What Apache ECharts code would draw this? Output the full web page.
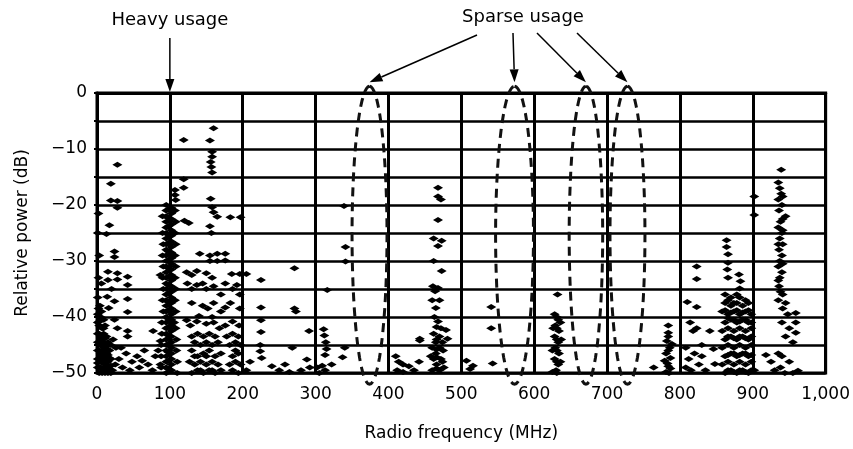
<!DOCTYPE html>
<html>
<head>
<meta charset="utf-8">
<script src="https://cdn.jsdelivr.net/npm/echarts@6/dist/echarts.min.js"></script>
<style>
  html, body { margin: 0; padding: 0; background: #fff; }
  #chart { width: 853px; height: 449px; }
</style>
</head>
<body>
<div id="chart"></div>
<script>
// measured points [MHz, dB], grouped by band
const lowBand = [
  [1,-39.5],[5,-40],[9,-40.5],[3,-41.5],[7,-42],[11,-41.5],[1,-43],[5,-43.5],[9,-43],[13,-43.5],
  [3,-44.5],[7,-45],[11,-45],[15,-44.5],[1,-46],[5,-46.5],[9,-46],[13,-46.5],[17,-46],[3,-47.5],
  [7,-48],[11,-47.5],[15,-48],[19,-47.5],[1,-49],[5,-49],[9,-49.5],[13,-49],[17,-49.5],[3,-50],
  [7,-50],[11,-50],[15,-50],[21,-49.5],[1,-41],[1,-44.5],[1,-47.5],[5,-45],[9,-44.5],[5,-48],[9,-47.5],[13,-48],
  [3,-40.8],[7,-43.8],[11,-46.8],[15,-46.8],[19,-45],[17,-48.8],[7,-46.5],[3,-49],[11,-49],[19,-50],
  [5,-41.8],[9,-42],[3,-43],[11,-43.8],[5,-44.2],[13,-45.2],[3,-46],[9,-45.5],[15,-45.8],[7,-47],
  [13,-47.2],[17,-47.3],[1,-48.2],[11,-48.5],[15,-49.2],[7,-49.2],[19,-48.7],[2,-38.5],[6,-39],
  [2,-21.5],[1,-25],[3,-29],[2,-33],[1,-36.5],[4,-38],[6,-34],
  [28,-12.8],[19,-16.2],[19,-19.2],[28,-19.3],[28,-20.5],[17,-23.6],[13,-25.2],[24,-28.3],[24,-29.3],
  [15,-31.9],[28,-32.2],[15,-33.4],[28,-33.3],[42,-32.8],[42,-34.3],[14,-36.4],[24,-37.2],[16,-38.4],
  [20,-35],[42,-36.8],[42,-39.1],[24,-40.5],[28,-42],[42,-42.5],[42,-43.5],[77,-42.5],[87,-32.5],[87,-44.3],
  [22,-44],[26,-45.5],[33,-45.5],[40,-46.5],[30,-47.5],[55,-47],[48,-48],[65,-46],[58,-49],[70,-48.5],
  [80,-47],[87,-48.5],[76,-49.5],[35,-49],[25,-48.5],[45,-49.5],[62,-47.8],[84,-46]
];
const fmBand = [
  [107,-17.3],[107,-18.2],[108,-19.1],
  [95,-20],[95,-21],[95,-22],[95,-23],[95,-24],[95,-25],[95,-26],[95,-27],[95,-28],[95,-29],[95,-30],
  [95,-31],[95,-32],[95,-33],[95,-34],[95,-35],[95,-36],[95,-37],[95,-38],[95,-39],[95,-40],[95,-41],
  [95,-42],[95,-43],[95,-44],[95,-45],[95,-46],[95,-47],[95,-48],[95,-49],[95,-50],
  [102,-20.5],[102,-21.5],[102,-22.5],[102,-23.5],[102,-24.5],[102,-25.5],[102,-26.5],[102,-27.5],
  [102,-28.5],[102,-29.5],[102,-30.5],[102,-31.5],[102,-32.5],[102,-33.5],[102,-34.5],[102,-35.5],
  [102,-36.5],[102,-37.5],[102,-38.5],[102,-39.5],[102,-40.5],[102,-41.5],[102,-42.5],[102,-43.5],
  [102,-44.5],[102,-45.5],[102,-46.5],[102,-47.5],[102,-48.5],[102,-49.5],
  [98,-20.8],[98,-22.3],[98,-23.8],[98,-25.3],[98,-26.8],[98,-28.3],[98,-29.8],[98,-31.3],[98,-32.8],
  [98,-34.3],[98,-35.8],[98,-37.3],[98,-38.8],[98,-40.3],[98,-41.8],[98,-43.3],[98,-44.8],[98,-46.3],
  [98,-47.8],[98,-49.3],
  [90,-22],[108,-23],[90,-25],[108,-27],[90,-29],[108,-31],[90,-33],[108,-35],[90,-37],[108,-39],
  [89,-41],[108,-42],[89,-43],[109,-44],[88,-45],[109,-46],[88,-47],[110,-48],[88,-49],[110,-50],
  [107,-21],[107,-25],[91,-27],[107,-29],[91,-31],[107,-33],[91,-35],[107,-37],[91,-39],[106,-41]
];
const vhfBand = [
  [160,-6.3],[119,-8.4],[155,-8.5],[158,-10.5],[158,-11.4],[156,-12.3],[157,-13.2],[158,-14.2],[119,-15.4],
  [119,-16.9],[156,-18.9],[158,-20.4],[160,-21.3],[165,-22.1],[183,-22.2],[197,-22.2],[126,-23.2],[120,-22.8],
  [155,-23.8],[157,-25],[141,-28.7],[155,-29],[165,-28.7],[176,-28.7],[176,-29.9],[165,-30],[155,-30],
  [123,-32],[130,-32.5],[137,-31.8],[150,-32.2],[158,-33],[185,-32.3],[196,-32.3],[205,-32.3],
  [124,-34],[130,-35],[137,-34.3],[145,-34],[150,-35],[160,-34.5],[170,-36],[176,-34],[186,-35],[192,-34.3],[196,-36],
  [130,-37.5],[145,-38],[152,-38.5],[160,-37.5],[170,-39],[176,-38.3],[183,-37.5],[196,-38.5],[140,-39.8],[158,-40],
  [123,-40.6],[128,-41.5],[137,-40.8],[150,-41.2],[160,-41],[168,-42],[176,-41.5],[186,-40.8],[195,-41.5],
  [130,-43.5],[138,-43],[146,-43.5],[154,-43],[162,-43.5],[178,-43.5],[186,-43],[194,-43.5],
  [134,-44.5],[142,-45],[150,-44.5],[158,-45],[166,-44.5],[182,-45],[190,-44.5],
  [130,-46],[138,-47],[146,-46.5],[154,-46],[162,-47],[170,-46.5],[186,-47],[194,-46.5],
  [127,-48],[134,-48.5],[142,-48],[150,-48.5],[158,-48],[166,-48.5],[182,-48.5],[190,-48],[197,-48.5],
  [130,-50],[138,-49.5],[146,-50],[154,-49.5],[162,-50],[170,-49.5],[186,-49.5],[194,-50],
  [134,-47],[150,-47],[142,-49.5],[158,-49.5],[190,-46],[197,-45]
];
const band200 = [
  [225,-33.4],[225,-38.3],[225,-40.6],[225,-42.7],[224,-45],[224,-46.1],[226,-47.3],[240,-48.8],[250,-49.5],
  [258,-48.5],[264,-49.8],[271,-31.3],[271,-38.5],[273,-39],[291,-42.5],[316,-35.2],[311,-42.2],[312,-43.3],
  [314,-44.5],[315,-45.7],[313,-46.8],[309,-48.7],[313,-49.5],[305,-50],[268,-45.5],[288,-47.6],[292,-49],
  [302,-49],[280,-49.5],[337,-47.2],[339,-20.2],[341,-27.5],[341,-30.1],[340,-45.5],[322,-48.5],[205,-49.5],[210,-48]
];
const band470 = [
  [468,-16.9],[468,-18.5],[472,-19],[468,-22.7],[462,-26],[473,-26.4],[468,-27.3],[462,-30],[473,-31.8],
  [461,-34.5],[464,-35.4],[468,-34.8],[460,-37],[470,-37],[465,-38.4],[463,-40],[468,-40.8],[472,-42],
  [479,-42.3],[443,-43.9],[481,-43.9],[462,-43],[470,-43.5],[465,-44.5],[460,-45.5],[470,-45.5],[475,-46],
  [465,-46.5],[462,-47.5],[472,-47.5],[466,-48.5],[460,-49.5],[470,-49.5],[476,-49],[458,-47],
  [466,-41.8],[466,-44],[466,-45.8],[466,-47.2],[466,-49.2],[474,-44.5],[474,-48],
  [410,-47],[414,-48],[420,-48.5],[412,-49.5],[420,-49.8],[428,-48.8],[435,-49.5],[442,-48],[443,-44.2],
  [516,-48.7],[507,-47.8],[543,-48.3],[541,-38.2],[541,-42],[512,-49.3]
];
const band630 = [
  [632,-36],[628,-39.5],[633,-40.5],[629,-41.5],[634,-42.5],[628,-43.5],[633,-44.5],[629,-45.5],[634,-46.5],
  [628,-47.5],[633,-48.5],[630,-49.5],[625,-46],[637,-44],[626,-42],[636,-48],[625,-49.8],[636,-41],
  [631,-40],[631,-42],[631,-44],[631,-46],[631,-48],[631,-50]
];
const band780 = [
  [764,-49],[784,-41.5],[784,-42.8],[782,-44.3],[786,-45.5],[781,-46.5],[787,-47.3],[783,-48.3],[787,-49.2],
  [781,-49.8],[785,-50],[779,-47.8],[789,-44.8],[784,-43.5],[784,-46],[784,-48.8]
];
const band850 = [
  [823,-31],[823,-33.2],[810,-37.3],[823,-38.2],[814,-41],[823,-42],[818,-42.5],[841,-42.5],[808,-45.5],
  [820,-46.5],[812,-47.5],[830,-45],[826,-48.5],[815,-49.5],[835,-49.5],[846,-45.7],[848,-48.4],[808,-49],[830,-47],
  [864,-26.3],[864,-27.5],[866,-28.8],[866,-30.3],[865,-31.5],[866,-33],[881,-32.4],[883,-33.6],[882,-34.9],
  [862,-36],[870,-36.5],[878,-36],[862,-37.5],[870,-38],[878,-37.5],[886,-38],[894,-37.5],
  [858,-39],[866,-39.5],[874,-39],[882,-39.5],[890,-39],[898,-39.5],
  [862,-41],[870,-40.5],[878,-41],[886,-40.5],[894,-41],
  [858,-42.5],[866,-42],[874,-42.5],[882,-42],[890,-42.5],[898,-42],
  [862,-44],[870,-43.5],[878,-44],[886,-43.5],[894,-44],
  [858,-45.5],[866,-45],[874,-45.5],[882,-45],[890,-45.5],[898,-45],
  [862,-47],[870,-46.5],[878,-47],[886,-46.5],[894,-47],
  [858,-48.5],[866,-48],[874,-48.5],[882,-48],[890,-48.5],[898,-48],
  [862,-50],[870,-49.5],[878,-50],[886,-49.5],[894,-50],[902,-49.5],
  [866,-37],[874,-37.5],[882,-36.5],[890,-37],[862,-38.8],[870,-39.2],[878,-38.8],[886,-39.2],[894,-38.8],
  [866,-40.2],[874,-40.5],[882,-40.8],[890,-40.5],[898,-41],[866,-43.5],[874,-43.8],[882,-43.5],[890,-43.8],
  [898,-43.5],[866,-46.8],[874,-46.5],[882,-46.8],[890,-46.5],[898,-46.8],[866,-49.5],[874,-49.8],[882,-49.5],
  [890,-49.8],[898,-49.5],
  [902,-18.5],[902,-21.8]
];
const band940 = [
  [939,-13.7],[935,-16],[937,-17],[939,-18],[935,-19],[940,-20],[936,-21],[945,-22],[938,-23],[935,-24],
  [940,-25],[937,-26],[941,-27],[936,-28],[940,-29],[937,-30],[935,-31],[940,-32],[937,-33],[936,-34.5],
  [938,-35.5],[935,-37],[945,-37.5],[941,-38.5],[948,-39.5],[959,-39.3],[959,-41],[940,-41],[959,-42.8],
  [950,-42],[945,-43.5],[955,-44.5],[935,-46.5],[940,-47],[925,-48],[930,-49.5],[938,-49],[918,-46.8],
  [950,-48],[962,-49.6],[955,-50],[944,-50],
  [941,-18.5],[941,-22.5],[941,-24.5],[935,-27],[941,-30.5],[935,-33.5],[941,-36]
];

// dashed "sparse usage" ellipses: centre MHz, half width MHz
const sparseCenters = [374, 573, 671, 728];
const sparseHalfWidths = [24, 26, 23, 24];
const ellipseTop = 1.2, ellipseBottom = -52;

const xTicks = [0, 100, 200, 300, 400, 500, 600, 700, 800, 900, 1000];

const font = 'DejaVu Sans';
const points = [].concat(lowBand, fmBand, vhfBand, band200, band470, band630, band780, band850, band940);

const chart = echarts.init(document.getElementById('chart'));
chart.setOption({
  animation: false,
  backgroundColor: '#fff',
  grid: {
    left: 97, right: 23, top: 93, bottom: 76,
    show: true, borderColor: '#000', borderWidth: 3
  },
  xAxis: {
    type: 'value', min: 0, max: 1000, interval: 100,
    name: 'Radio frequency (MHz)', nameLocation: 'middle', nameGap: 52,
    nameTextStyle: { fontFamily: font, fontSize: 17, color: '#000' },
    axisLine: { show: true, lineStyle: { color: '#000', width: 3 } },
    axisTick: { show: false },
    axisLabel: {
      margin: 13, fontFamily: font, fontSize: 17, color: '#000',
      formatter: v => xTicks.indexOf(v) < 0 ? '' : (v === 1000 ? '1,000' : String(v))
    },
    splitLine: { show: true, lineStyle: { color: '#000', width: 3 } }
  },
  yAxis: {
    type: 'value', min: -50, max: 0, interval: 5,
    name: 'Relative power (dB)', nameLocation: 'middle', nameGap: 66, nameRotate: 90,
    nameTextStyle: { fontFamily: font, fontSize: 17, color: '#000' },
    axisLine: { show: true, lineStyle: { color: '#000', width: 3 } },
    axisTick: { show: true, length: 3, lineStyle: { color: '#000', width: 2 } },
    axisLabel: {
      margin: 10, fontFamily: font, fontSize: 17, color: '#000',
      formatter: v => v % 10 !== 0 ? '' : (v < 0 ? '\u2212' + (-v) : String(v))
    },
    splitLine: { show: true, lineStyle: { color: '#000', width: 2.5 } }
  },
  series: [
    {
      type: 'scatter',
      data: points,
      symbol: 'diamond',
      symbolSize: [10, 6],
      itemStyle: { color: '#000', opacity: 1 },
      z: 3
    },
    {
      type: 'custom',
      clip: false,
      silent: true,
      z: 4,
      data: sparseCenters.map((c, i) => [c, sparseHalfWidths[i]]),
      renderItem: function (params, api) {
        const cx = api.value(0), hw = api.value(1);
        const cy = (ellipseTop + ellipseBottom) / 2, hh = (ellipseTop - ellipseBottom) / 2;
        const pts = [];
        for (let k = 0; k <= 72; k++) {
          const t = k / 72 * Math.PI * 2;
          pts.push(api.coord([cx + hw * Math.sin(t), cy + hh * Math.cos(t)]));
        }
        return {
          type: 'polyline',
          shape: { points: pts },
          style: { stroke: '#111', lineWidth: 3, lineDash: [9, 6], fill: null }
        };
      }
    }
  ]
});

// annotations with arrows
function arrow(x1, y1, x2, y2) {
  const a = Math.atan2(y2 - y1, x2 - x1), L = 13, W = 4.5;
  const bx = x2 - L * Math.cos(a), by = y2 - L * Math.sin(a);
  return [
    { type: 'line', shape: { x1: x1, y1: y1, x2: bx, y2: by }, style: { stroke: '#000', lineWidth: 1.5 } },
    { type: 'polygon', shape: { points: [[x2, y2],
        [bx + W * Math.sin(a), by - W * Math.cos(a)], [bx - W * Math.sin(a), by + W * Math.cos(a)]] },
      style: { fill: '#000' } }
  ];
}
const toPx = p => chart.convertToPixel({ gridIndex: 0 }, p);
const heavy = toPx([100, 0]);
const gfx = [
  { type: 'text', x: heavy[0], y: 20, style: { text: 'Heavy usage', font: '18px "DejaVu Sans"', fill: '#000', align: 'center', verticalAlign: 'middle' } },
  { type: 'text', x: 523, y: 17, style: { text: 'Sparse usage', font: '18px "DejaVu Sans"', fill: '#000', align: 'center', verticalAlign: 'middle' } }
].concat(arrow(heavy[0], 38, heavy[0], heavy[1] - 1));
const starts = [[477, 35], [513, 33], [537, 33], [577, 33]];
sparseCenters.forEach((c, i) => {
  const tip = toPx([c, ellipseTop]);
  gfx.push.apply(gfx, arrow(starts[i][0], starts[i][1], tip[0], tip[1] - 4));
});
chart.setOption({ graphic: gfx });
</script>
</body>
</html>
